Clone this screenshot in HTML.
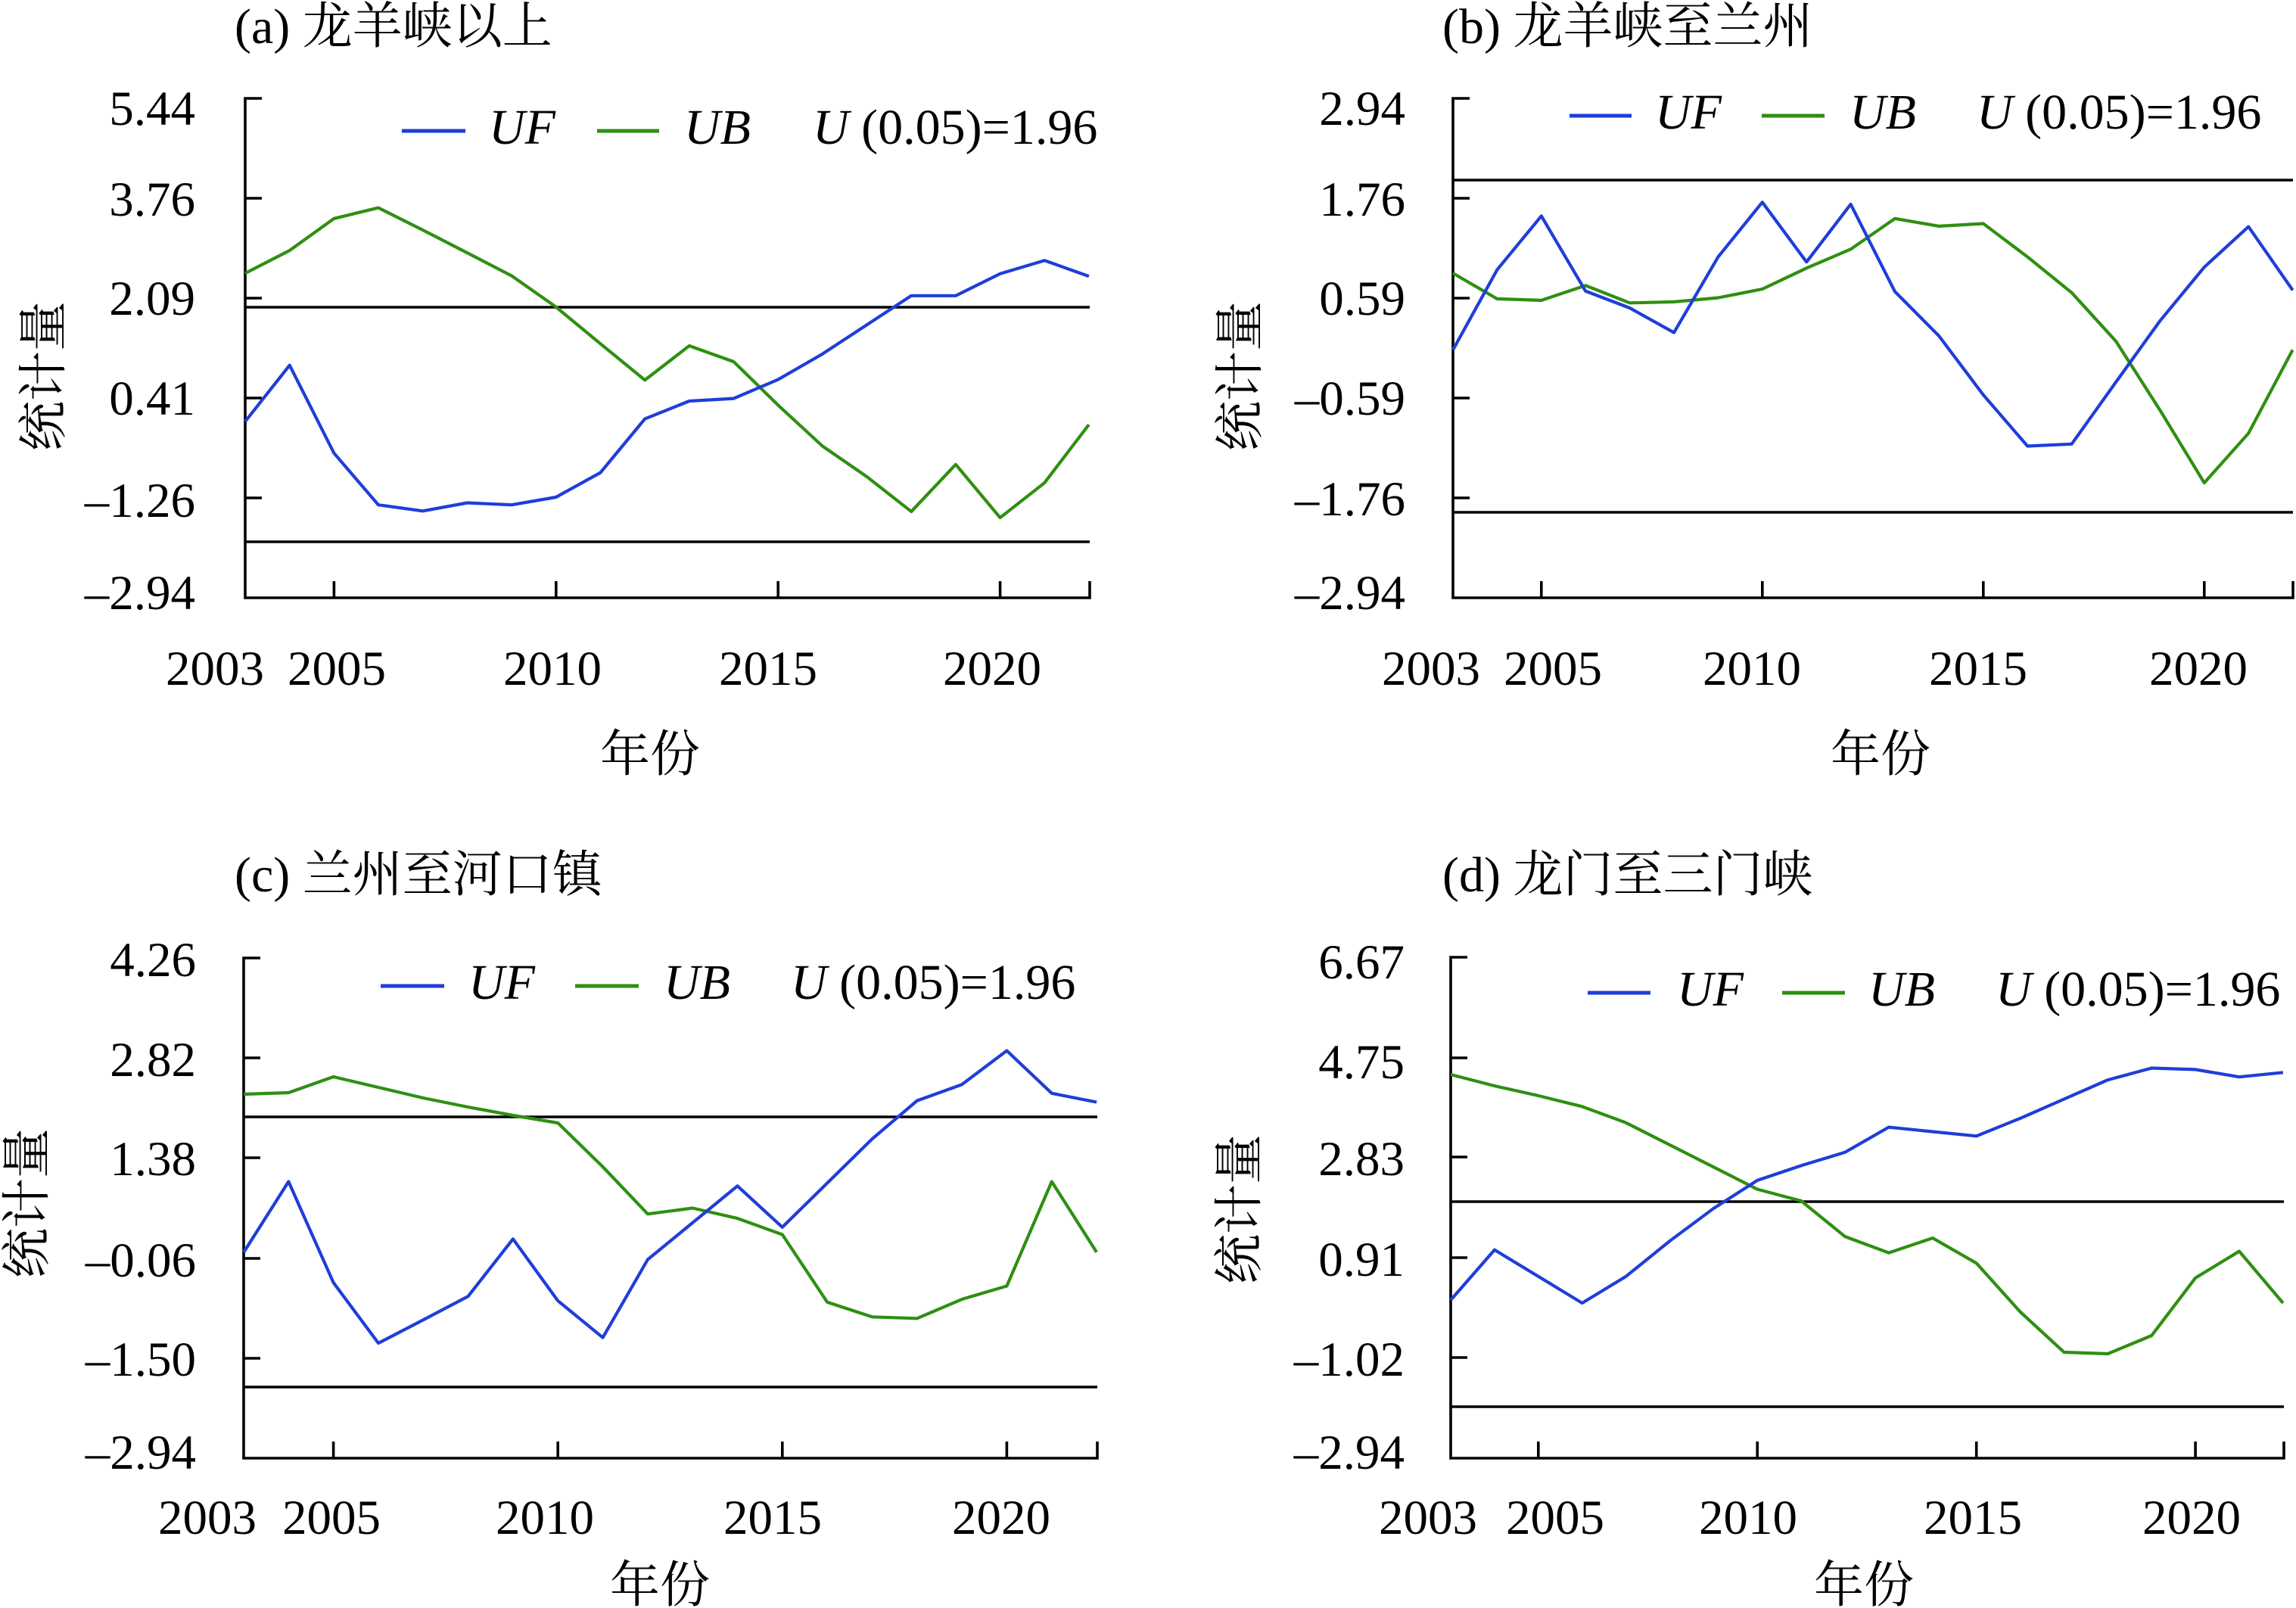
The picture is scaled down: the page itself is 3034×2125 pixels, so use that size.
<!DOCTYPE html>
<html>
<head>
<meta charset="utf-8">
<style>
html,body{margin:0;padding:0;background:#fff;}
svg{display:block;}
text{font-family:"Liberation Serif","Noto Serif CJK SC","Noto Serif CJK JP",serif;fill:#000;}
.t{font-size:65px;}
.lg{font-size:66px;}
.ti{font-size:66px;}
.ax{stroke:#000;stroke-width:3.6;fill:none;}
.uf{stroke:#1f3ed8;stroke-width:4.2;fill:none;stroke-linejoin:round;}
.ub{stroke:#2f8f12;stroke-width:4.2;fill:none;stroke-linejoin:round;}
</style>
</head>
<body>
<svg width="3034" height="2125" viewBox="0 0 3034 2125" xmlns="http://www.w3.org/2000/svg">
<rect width="3034" height="2125" fill="#fff"/>

<!-- ================= Panel (a) ================= -->
<text class="ti" x="310" y="57">(a) 龙羊峡以上</text>
<line class="ax" x1="324" y1="406" x2="1440" y2="406"/>
<line class="ax" x1="324" y1="716" x2="1440" y2="716"/>
<path class="ax" d="M346,130 H324 V790 H1440 V768"/>
<path class="ax" d="M324,262 H346 M324,394 H346 M324,526 H346 M324,658 H346"/>
<path class="ax" d="M441.4,790 V768 M734.8,790 V768 M1028.2,790 V768 M1321.6,790 V768"/>
<g class="t" text-anchor="end">
<text x="258" y="165">5.44</text>
<text x="258" y="285">3.76</text>
<text x="258" y="416">2.09</text>
<text x="258" y="548">0.41</text>
<text x="258" y="683">–1.26</text>
<text x="258" y="805">–2.94</text>
</g>
<g class="t" text-anchor="middle">
<text x="284" y="905">2003</text>
<text x="445" y="905">2005</text>
<text x="730" y="905">2010</text>
<text x="1015" y="905">2015</text>
<text x="1311" y="905">2020</text>
</g>
<text class="ti" x="859" y="1019" text-anchor="middle">年份</text>
<g transform="translate(55,497) rotate(-90)"><text class="ti" x="0" y="25" text-anchor="middle">统计量</text></g>
<line x1="531" y1="173" x2="615" y2="173" stroke="#1f3ed8" stroke-width="5"/>
<text class="lg" x="646" y="190" font-style="italic">UF</text>
<line x1="789" y1="173" x2="871" y2="173" stroke="#2f8f12" stroke-width="5"/>
<text class="lg" x="904" y="190" font-style="italic">UB</text>
<text class="lg" x="1074" y="190"><tspan font-style="italic">U</tspan> (0.05)=1.96</text>
<polyline class="ub" points="324,361.1 382.7,331 441.4,288.8 500,274.6 558.7,304 617.4,334.1 676.1,364.5 734.8,405.7 793.4,454.3 852.1,502.3 910.8,457 969.5,478 1028.2,535.4 1086.8,589.5 1145.5,630 1204.2,676 1262.9,613.8 1321.6,684.1 1380.2,638.1 1438.9,561.1"/>
<polyline class="uf" points="324,557 382.7,482.7 441.4,598.9 500,667.2 558.7,675.3 617.4,664.5 676.1,667.2 734.8,657 793.4,624.6 852.1,553.6 910.8,530 969.5,526.6 1028.2,501.6 1086.8,467.8 1145.5,429.3 1204.2,390.8 1262.9,390.8 1321.6,361.8 1380.2,344.2 1438.9,365.1"/>

<!-- ================= Panel (b) ================= -->
<text class="ti" x="1906" y="57">(b) 龙羊峡至兰州</text>
<line class="ax" x1="1920" y1="238" x2="3030" y2="238"/>
<line class="ax" x1="1920" y1="677" x2="3030" y2="677"/>
<path class="ax" d="M1942,130 H1920 V790 H3030 V768"/>
<path class="ax" d="M1920,262 H1942 M1920,394 H1942 M1920,526 H1942 M1920,658 H1942"/>
<path class="ax" d="M2036.8,790 V768 M2328.8,790 V768 M2620.8,790 V768 M2912.8,790 V768"/>
<g class="t" text-anchor="end">
<text x="1857" y="165">2.94</text>
<text x="1857" y="285">1.76</text>
<text x="1857" y="416">0.59</text>
<text x="1857" y="548">–0.59</text>
<text x="1857" y="681">–1.76</text>
<text x="1857" y="805">–2.94</text>
</g>
<g class="t" text-anchor="middle">
<text x="1891" y="905">2003</text>
<text x="2052" y="905">2005</text>
<text x="2315" y="905">2010</text>
<text x="2614" y="905">2015</text>
<text x="2905" y="905">2020</text>
</g>
<text class="ti" x="2485" y="1019" text-anchor="middle">年份</text>
<g transform="translate(1636,497) rotate(-90)"><text class="ti" x="0" y="25" text-anchor="middle">统计量</text></g>
<line x1="2074" y1="153" x2="2156" y2="153" stroke="#1f3ed8" stroke-width="5"/>
<text class="lg" x="2187" y="170" font-style="italic">UF</text>
<line x1="2328" y1="153" x2="2411" y2="153" stroke="#2f8f12" stroke-width="5"/>
<text class="lg" x="2444" y="170" font-style="italic">UB</text>
<text class="lg" x="2612" y="170"><tspan font-style="italic">U</tspan> (0.05)=1.96</text>
<polyline class="ub" points="1920,361.1 1978.4,394.9 2036.8,396.9 2095.2,377.3 2153.6,400.3 2212,398.9 2270.4,393.5 2328.8,382 2387.2,354.3 2445.6,329.3 2504,288.8 2562.4,298.9 2620.8,295.5 2679.2,339.5 2737.6,386.8 2796,450.9 2854.4,542.2 2912.8,638.1 2971.2,572.6 3029.6,462.4"/>
<polyline class="uf" points="1920,462.4 1978.4,356.4 2036.8,285.4 2095.2,384.7 2153.6,407 2212,439.5 2270.4,339.5 2328.8,267.2 2387.2,346.2 2445.6,269.9 2504,385.4 2562.4,444.2 2620.8,521.9 2679.2,589.5 2737.6,586.8 2796,505 2854.4,423.9 2912.8,353 2971.2,299.6 3029.6,383.4"/>

<!-- ================= Panel (c) ================= -->
<text class="ti" x="310" y="1178">(c) 兰州至河口镇</text>
<line class="ax" x1="322" y1="1476" x2="1450" y2="1476"/>
<line class="ax" x1="322" y1="1833" x2="1450" y2="1833"/>
<path class="ax" d="M344,1266 H322 V1927 H1450 V1905"/>
<path class="ax" d="M322,1398 H344 M322,1530 H344 M322,1663 H344 M322,1795 H344"/>
<path class="ax" d="M440.6,1927 V1905 M737.2,1927 V1905 M1033.8,1927 V1905 M1330.4,1927 V1905"/>
<g class="t" text-anchor="end">
<text x="259" y="1290">4.26</text>
<text x="259" y="1422">2.82</text>
<text x="259" y="1553">1.38</text>
<text x="259" y="1687">–0.06</text>
<text x="259" y="1818">–1.50</text>
<text x="259" y="1941">–2.94</text>
</g>
<g class="t" text-anchor="middle">
<text x="274" y="2027">2003</text>
<text x="438" y="2027">2005</text>
<text x="720" y="2027">2010</text>
<text x="1021" y="2027">2015</text>
<text x="1323" y="2027">2020</text>
</g>
<text class="ti" x="872" y="2117" text-anchor="middle">年份</text>
<g transform="translate(33,1590) rotate(-90)"><text class="ti" x="0" y="25" text-anchor="middle">统计量</text></g>
<line x1="503" y1="1303" x2="587" y2="1303" stroke="#1f3ed8" stroke-width="5"/>
<text class="lg" x="619" y="1320" font-style="italic">UF</text>
<line x1="760" y1="1303" x2="844" y2="1303" stroke="#2f8f12" stroke-width="5"/>
<text class="lg" x="877" y="1320" font-style="italic">UB</text>
<text class="lg" x="1045" y="1320"><tspan font-style="italic">U</tspan> (0.05)=1.96</text>
<polyline class="ub" points="322,1446 381.3,1444 440.6,1423 500,1437 559.3,1451 618.6,1463 677.9,1474 737.2,1484 796.6,1542 855.9,1604.3 915.2,1596.5 974.5,1610.1 1033.8,1631.5 1093.2,1720.9 1152.5,1740.3 1211.8,1742.3 1271.1,1717 1330.4,1699.5 1389.8,1561.5 1449.1,1654.8"/>
<polyline class="uf" points="322,1655 381.3,1561.5 440.6,1695 500,1775 559.3,1744.2 618.6,1713.1 677.9,1637.3 737.2,1719 796.6,1767.6 855.9,1664.5 915.2,1615.9 974.5,1567.3 1033.8,1621.8 1093.2,1563.4 1152.5,1505.1 1211.8,1454.6 1271.1,1433.2 1330.4,1388.5 1389.8,1444.8 1449.1,1456.5"/>

<!-- ================= Panel (d) ================= -->
<text class="ti" x="1906" y="1178">(d) 龙门至三门峡</text>
<line class="ax" x1="1917" y1="1588" x2="3018" y2="1588"/>
<line class="ax" x1="1917" y1="1859" x2="3018" y2="1859"/>
<path class="ax" d="M1939,1265 H1917 V1927 H3018 V1905"/>
<path class="ax" d="M1917,1398 H1939 M1917,1529 H1939 M1917,1662 H1939 M1917,1794 H1939"/>
<path class="ax" d="M2032.8,1927 V1905 M2322.2,1927 V1905 M2611.7,1927 V1905 M2901.1,1927 V1905"/>
<g class="t" text-anchor="end">
<text x="1856" y="1293">6.67</text>
<text x="1856" y="1425">4.75</text>
<text x="1856" y="1553">2.83</text>
<text x="1856" y="1686">0.91</text>
<text x="1856" y="1818">–1.02</text>
<text x="1856" y="1941">–2.94</text>
</g>
<g class="t" text-anchor="middle">
<text x="1887" y="2027">2003</text>
<text x="2055" y="2027">2005</text>
<text x="2310" y="2027">2010</text>
<text x="2607" y="2027">2015</text>
<text x="2896" y="2027">2020</text>
</g>
<text class="ti" x="2463" y="2117" text-anchor="middle">年份</text>
<g transform="translate(1635,1598) rotate(-90)"><text class="ti" x="0" y="25" text-anchor="middle">统计量</text></g>
<line x1="2098" y1="1312" x2="2181" y2="1312" stroke="#1f3ed8" stroke-width="5"/>
<text class="lg" x="2216" y="1329" font-style="italic">UF</text>
<line x1="2355" y1="1312" x2="2438" y2="1312" stroke="#2f8f12" stroke-width="5"/>
<text class="lg" x="2469" y="1329" font-style="italic">UB</text>
<text class="lg" x="2637" y="1329"><tspan font-style="italic">U</tspan> (0.05)=1.96</text>
<polyline class="ub" points="1917,1420 1974.9,1435 2032.8,1448 2090.7,1462.3 2148.6,1483.7 2206.5,1513 2264.3,1542.3 2322.2,1571.6 2380.1,1587 2438,1634.1 2495.9,1655.6 2553.8,1636.1 2611.7,1669.3 2669.6,1733.7 2727.5,1787 2785.4,1789 2843.2,1765 2901.1,1688.8 2959,1653.6 3016.9,1722"/>
<polyline class="uf" points="1917,1718.1 1974.9,1651.7 2032.8,1686.8 2090.7,1722 2148.6,1686.8 2206.5,1640 2264.3,1597 2322.2,1559.9 2380.1,1540.4 2438,1522.8 2495.9,1489.6 2553.8,1495.5 2611.7,1501.3 2669.6,1477.9 2727.5,1452.5 2785.4,1427.1 2843.2,1411.5 2901.1,1413.4 2959,1423.2 3016.9,1417.3"/>
</svg>
</body>
</html>
